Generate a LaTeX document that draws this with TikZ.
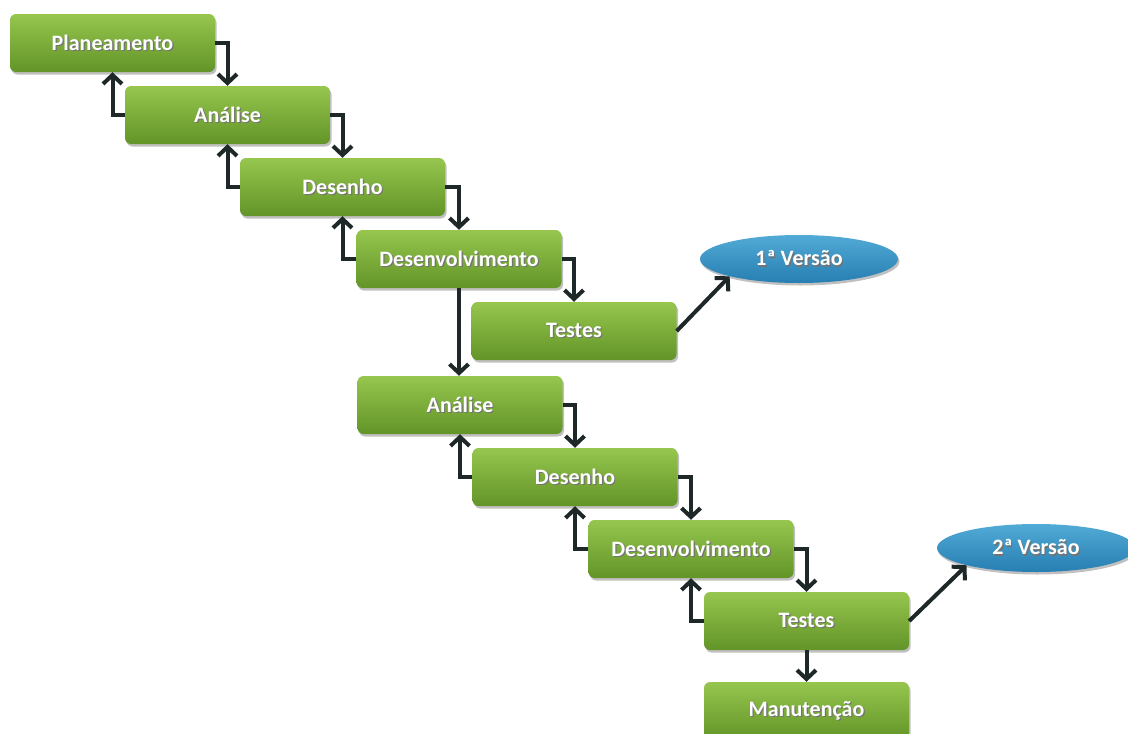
\documentclass[tikz,border=0pt]{standalone}
\usepackage{fontspec}
\setmainfont{Carlito}
\usetikzlibrary{arrows.meta,shapes.geometric,shadows}

\definecolor{boxtop}{RGB}{150,198,78}
\definecolor{boxbot}{RGB}{98,148,40}
\definecolor{reltop}{RGB}{82,170,214}
\definecolor{relbot}{RGB}{38,126,178}
\definecolor{flowc}{RGB}{30,40,40}

% white label with a faint offset shadow behind it
\newcommand{\shtxt}[1]{\rlap{\hspace{1.2pt}\raisebox{-1.2pt}{\color{black!55}#1}}#1}

\tikzset{
  stage/.style={rectangle, rounded corners=6pt, minimum width=205pt, minimum height=58pt,
    top color=boxtop, bottom color=boxbot,
    drop shadow={shadow xshift=1.5pt, shadow yshift=-2.5pt, opacity=0.35, fill=black!70},
    font=\bfseries\fontsize{22}{26}\selectfont, text=white, inner sep=0pt},
  release/.style={ellipse, minimum width=198pt, minimum height=48pt,
    top color=reltop, bottom color=relbot,
    drop shadow={shadow xshift=1.5pt, shadow yshift=-2.5pt, opacity=0.35, fill=black!70},
    font=\bfseries\fontsize{22}{26}\selectfont, text=white, inner sep=0pt},
  flow/.style={draw=flowc, line width=4pt, -{Straight Barb[length=9pt,width=19pt]}},
}

\begin{document}
\begin{tikzpicture}[x=1pt, y=-1pt]
  \useasboundingbox (0,0) rectangle (1128,734);
  \fill[white] (0,0) rectangle (1128,734);
  \clip (0,0) rectangle (1128,734);

  % first cycle
  \node[stage] (p1)  at (112.5,43)  {\shtxt{Planeamento}};
  \node[stage] (a1)  at (227.5,115) {\shtxt{Análise}};
  \node[stage] (d1)  at (342.5,187) {\shtxt{Desenho}};
  \node[stage] (dv1) at (459,259)   {\shtxt{Desenvolvimento}};
  \node[stage] (t1)  at (574,331)   {\shtxt{Testes}};
  \node[release] (v1) at (799,259)  {\shtxt{1ª Versão}};

  % second cycle
  \node[stage] (a2)  at (460,405)   {\shtxt{Análise}};
  \node[stage] (d2)  at (575,477)   {\shtxt{Desenho}};
  \node[stage] (dv2) at (691,549)   {\shtxt{Desenvolvimento}};
  \node[stage] (t2)  at (806.5,621) {\shtxt{Testes}};
  \node[stage] (mn)  at (806.5,711) {\shtxt{Manutenção}};
  \node[release] (v2) at (1036,548) {\shtxt{2ª Versão}};

  % forward and feedback connectors
  \draw[flow] (p1.east) -| (a1.north);
  \draw[flow] (a1.west) -| (p1.south);
  \draw[flow] (a1.east) -| (d1.north);
  \draw[flow] (d1.west) -| (a1.south);
  \draw[flow] (d1.east) -| (dv1.north);
  \draw[flow] (dv1.west) -| (d1.south);
  \draw[flow] (dv1.east) -| (t1.north);
  \draw[flow] (dv1.south) -- (dv1.south |- a2.north);
  \draw[flow] (t1.east) -- (v1.194);

  \draw[flow] (a2.east) -| (d2.north);
  \draw[flow] (d2.west) -| (a2.south);
  \draw[flow] (d2.east) -| (dv2.north);
  \draw[flow] (dv2.west) -| (d2.south);
  \draw[flow] (dv2.east) -| (t2.north);
  \draw[flow] (t2.west) -| (dv2.south);
  \draw[flow] (t2.south) -- (mn.north);
  \draw[flow] (t2.east) -- (v2.194);
\end{tikzpicture}
\end{document}
